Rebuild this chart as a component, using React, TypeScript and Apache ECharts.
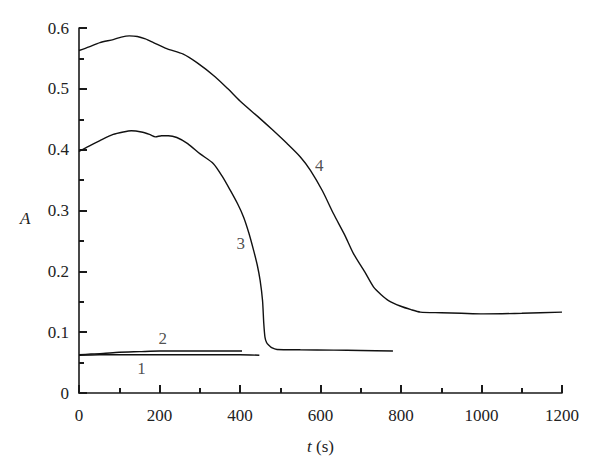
import React, { useEffect, useRef } from "react";
import * as echarts from "echarts";

const curve1: [number, number][] = [
  [0, 0.062], [50, 0.063], [100, 0.063], [150, 0.063], [200, 0.063], [250, 0.063],
  [300, 0.063], [350, 0.063], [400, 0.063], [448, 0.062],
];
const curve2: [number, number][] = [
  [0, 0.063], [30, 0.064], [60, 0.065], [100, 0.067], [150, 0.068], [200, 0.069],
  [250, 0.069], [300, 0.069], [350, 0.069], [405, 0.069],
];
const curve3: [number, number][] = [
  [0, 0.397], [25, 0.406], [52, 0.415], [85, 0.425], [110, 0.429], [130, 0.431],
  [155, 0.429], [175, 0.425], [190, 0.421], [205, 0.423], [222, 0.423],
  [243, 0.42], [270, 0.41], [301, 0.393], [334, 0.377], [356, 0.356], [376, 0.333],
  [394, 0.311], [409, 0.289], [422, 0.263], [434, 0.234], [443, 0.21], [450, 0.185],
  [456, 0.152], [459, 0.115], [462, 0.092], [466, 0.083], [471, 0.079], [480, 0.074],
  [492, 0.0716], [550, 0.071], [633, 0.0705], [700, 0.0698], [780, 0.069],
];
const curve4: [number, number][] = [
  [0, 0.563], [25, 0.569], [52, 0.576], [85, 0.581], [105, 0.585], [125, 0.587],
  [145, 0.586], [165, 0.582], [185, 0.576], [218, 0.566], [259, 0.557], [293, 0.543],
  [338, 0.52], [370, 0.5], [400, 0.48], [450, 0.451], [480, 0.433], [517, 0.41],
  [550, 0.388], [575, 0.366], [605, 0.332], [632, 0.295], [660, 0.26], [682, 0.229],
  [710, 0.199], [732, 0.174], [750, 0.162], [769, 0.152], [798, 0.143], [825, 0.137],
  [848, 0.133], [900, 0.132], [950, 0.131], [1005, 0.13], [1100, 0.131], [1200, 0.133],
];
const curveLabels: { name: string; value: [number, number] }[] = [
  { name: "1", value: [155, 0.041] },
  { name: "2", value: [208, 0.09] },
  { name: "3", value: [402, 0.245] },
  { name: "4", value: [597, 0.374] },
];

const FONT = "'Liberation Serif', 'Times New Roman', serif";
const AXIS_COLOR = "#1a1a1a";

export default function App() {
  const ref = useRef<HTMLDivElement>(null);
  useEffect(() => {
    if (!ref.current) return;
    const chart = echarts.init(ref.current, undefined, { renderer: "svg" });
    const lineSeries = (data: [number, number][]) => ({
      type: "line",
      data,
      showSymbol: false,
      symbol: "none",
      smooth: 0.25,
      lineStyle: { color: "#111", width: 1.4 },
      silent: true,
    });
    const tickStyle = { color: AXIS_COLOR, width: 2 };
    chart.setOption({
      animation: false,
      backgroundColor: "#fff",
      grid: { left: 79, right: 38, top: 28, bottom: 83 },
      xAxis: {
        type: "value",
        min: 0,
        max: 1200,
        interval: 200,
        name: "{i|t} (s)",
        nameLocation: "middle",
        nameGap: 45,
        nameTextStyle: {
          fontFamily: FONT,
          fontSize: 17,
          color: "#222",
          rich: { i: { fontFamily: FONT, fontSize: 17, fontStyle: "italic", color: "#222" } },
        },
        axisLine: { show: true, onZero: false, lineStyle: { color: AXIS_COLOR, width: 1.6 } },
        axisTick: { show: true, inside: true, length: 8, lineStyle: tickStyle },
        minorTick: { show: true, splitNumber: 2, length: 5, lineStyle: tickStyle },
        axisLabel: {
          fontFamily: FONT,
          fontSize: 17,
          color: "#222",
          margin: 14,
          formatter: (v: number) => String(v),
        },
        splitLine: { show: false },
        minorSplitLine: { show: false },
      },
      yAxis: {
        type: "value",
        min: 0,
        max: 0.6,
        interval: 0.1,
        axisLine: { show: true, onZero: false, lineStyle: { color: AXIS_COLOR, width: 1.6 } },
        axisTick: { show: true, inside: true, length: 8, lineStyle: tickStyle },
        minorTick: { show: true, splitNumber: 2, length: 5, lineStyle: tickStyle },
        axisLabel: {
          fontFamily: FONT,
          fontSize: 17,
          color: "#222",
          margin: 10,
          formatter: (v: number) => String(Math.round(v * 10) / 10),
        },
        splitLine: { show: false },
        minorSplitLine: { show: false },
      },
      graphic: [
        {
          type: "text",
          left: 20,
          top: 210,
          style: { text: "A", fontFamily: FONT, fontSize: 17, fontStyle: "italic", fill: "#222" },
        },
      ],
      series: [
        lineSeries(curve1),
        lineSeries(curve2),
        lineSeries(curve3),
        lineSeries(curve4),
        {
          type: "scatter",
          data: curveLabels,
          symbolSize: 0,
          silent: true,
          label: {
            show: true,
            position: "inside",
            formatter: (p: any) => p.name,
            fontFamily: FONT,
            fontSize: 17,
            color: "#222",
          },
        },
      ],
    });
    return () => chart.dispose();
  }, []);
  return (
    <div
      ref={ref}
      style={{ position: "fixed", left: 0, top: 0, width: 600, height: 476 }}
    />
  );
}
